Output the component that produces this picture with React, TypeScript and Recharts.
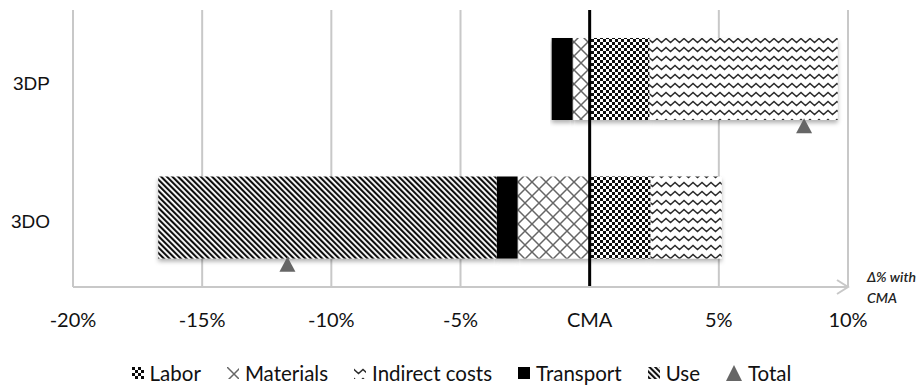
import { ComposedChart, Bar, Line, XAxis, YAxis, CartesianGrid, ReferenceLine } from 'recharts'

// change vs. CMA, in percent
const categories = ['3DP', '3DO']
const labor = [2.32, 2.36]
const materials = [-0.66, -2.79]
const indirectCosts = [7.28, 2.75]
const transport = [-0.81, -0.81]
const use = [0, -13.1]
const total = [8.3, -11.7]
const xTicks = [-20, -15, -10, -5, 0, 5, 10]

const rows = categories.map((name, i) => ({
  name,
  labor: labor[i],
  materials: materials[i],
  indirect: indirectCosts[i],
  transport: transport[i],
  use: use[i],
  total: total[i],
}))

const series = [
  { key: 'labor', name: 'Labor', fill: 'url(#p-labor)' },
  { key: 'materials', name: 'Materials', fill: 'url(#p-materials)' },
  { key: 'indirect', name: 'Indirect costs', fill: 'url(#p-indirect)' },
  { key: 'transport', name: 'Transport', fill: '#000' },
  { key: 'use', name: 'Use', fill: 'url(#p-use)' },
]

const BAR_SIZE = 82
const GRID = '#c8c8c8'
const FONT = 'Lato, "Open Sans", sans-serif'

function Patterns() {
  return (
    <svg width={0} height={0} style={{ position: 'absolute' }}>
      <defs>
        <pattern id="p-labor" width={6} height={6} patternUnits="userSpaceOnUse">
          <rect width={6} height={6} fill="#fff" />
          <rect width={3} height={3} fill="#0a0a0a" />
          <rect x={3} y={3} width={3} height={3} fill="#0a0a0a" />
        </pattern>
        <pattern id="p-materials" width={14} height={14} patternUnits="userSpaceOnUse">
          <rect width={14} height={14} fill="#fff" />
          <path d="M0,0 L14,14 M14,0 L0,14" stroke="#666" strokeWidth={1.5} />
        </pattern>
        <pattern id="p-indirect" width={9} height={9} patternUnits="userSpaceOnUse">
          <rect width={9} height={9} fill="#fff" />
          <path d="M-4.5,6.5 L0,2.5 L4.5,6.5 L9,2.5 L13.5,6.5" fill="none" stroke="#2a2a2a" strokeWidth={1.5} />
        </pattern>
        <pattern id="p-use" width={4} height={4} patternUnits="userSpaceOnUse" patternTransform="rotate(-45)">
          <rect width={4} height={4} fill="#fff" />
          <rect width={2.1} height={4} fill="#111" />
        </pattern>
        <filter id="bar-shadow" x="-5%" y="-10%" width="110%" height="135%">
          <feDropShadow dx={0} dy={3} stdDeviation={2} floodColor="#000" floodOpacity={0.3} />
        </filter>
      </defs>
    </svg>
  )
}

function SegmentShape(props: any) {
  const { x, y, width, height, fill } = props
  if (!width || !height) return <g />
  return (
    <rect
      x={Math.min(x, x + width)}
      y={Math.min(y, y + height)}
      width={Math.abs(width)}
      height={Math.abs(height)}
      fill={fill}
      filter="url(#bar-shadow)"
    />
  )
}

// total marker sits on the lower edge of its bar
function TotalMarker(props: any) {
  const { cx, cy } = props
  if (cx == null || cy == null) return <g />
  const c = cy + BAR_SIZE / 2 + 6
  return <polygon points={`${cx},${c - 8} ${cx - 8},${c + 7} ${cx + 8},${c + 7}`} fill="#666" />
}

function AxisCaption(props: any) {
  const { x, y, width } = props.viewBox
  const end = x + width
  return (
    <g>
      <polyline points={`${end - 11},${y - 7} ${end},${y} ${end - 11},${y + 7}`} fill="none" stroke={GRID} strokeWidth={2} />
      <text x={end + 19} y={y - 5} fontFamily={FONT} fontStyle="italic" fontWeight={600} fontSize={14} fill="#222">
        Δ% with
      </text>
      <text x={end + 19} y={y + 16} fontFamily={FONT} fontStyle="italic" fontWeight={600} fontSize={14} fill="#222">
        CMA
      </text>
    </g>
  )
}

function LegendIcon({ fill, triangle }: { fill?: string; triangle?: boolean }) {
  if (triangle) {
    return (
      <svg width={16} height={16}>
        <polygon points="8,0 0,16 16,16" fill="#666" />
      </svg>
    )
  }
  return (
    <svg width={12} height={12}>
      <rect width={12} height={12} fill={fill} />
    </svg>
  )
}

function ChartLegend() {
  return (
    <div
      style={{
        position: 'absolute',
        left: 0,
        top: 361,
        width: 923,
        display: 'flex',
        justifyContent: 'center',
        alignItems: 'center',
        gap: 26,
        fontFamily: FONT,
        fontSize: 20.5,
        color: '#111',
      }}
    >
      {series.map((s) => (
        <span key={s.key} style={{ display: 'flex', alignItems: 'center', gap: 6 }}>
          <LegendIcon fill={s.fill} />
          {s.name}
        </span>
      ))}
      <span style={{ display: 'flex', alignItems: 'center', gap: 6 }}>
        <LegendIcon triangle />
        Total
      </span>
    </div>
  )
}

export default function App() {
  return (
    <div style={{ position: 'absolute', left: 0, top: 0, width: 923, height: 389, background: '#fff' }}>
      <Patterns />
      <ComposedChart
        width={923}
        height={389}
        layout="vertical"
        data={rows}
        stackOffset="sign"
        margin={{ top: 10, right: 75, bottom: 52, left: 0 }}
      >
        <CartesianGrid horizontal={false} stroke={GRID} strokeWidth={2} />
        <XAxis
          type="number"
          domain={[-20, 10]}
          ticks={xTicks}
          interval={0}
          height={50}
          tickFormatter={(v: number) => (v === 0 ? 'CMA' : `${v}%`)}
          axisLine={{ stroke: GRID, strokeWidth: 2 }}
          tickLine={false}
          tickSize={0}
          tickMargin={26}
          tick={{ fill: '#111', fontSize: 20, fontFamily: FONT }}
          label={{ content: AxisCaption }}
        />
        <YAxis
          type="category"
          dataKey="name"
          width={73}
          axisLine={false}
          tickLine={false}
          tickSize={0}
          tickMargin={23}
          tick={{ fill: '#111', fontSize: 19, fontFamily: '"Liberation Sans", Arial, sans-serif', dy: 4 }}
        />
        {series.map((s) => (
          <Bar
            key={s.key}
            dataKey={s.key}
            name={s.name}
            stackId="total"
            fill={s.fill}
            barSize={BAR_SIZE}
            shape={SegmentShape}
            isAnimationActive={false}
          />
        ))}
        <ReferenceLine x={0} stroke="#000" strokeWidth={3} />
        <Line
          dataKey="total"
          name="Total"
          stroke="none"
          dot={TotalMarker}
          activeDot={false}
          isAnimationActive={false}
        />
      </ComposedChart>
      <ChartLegend />
    </div>
  )
}
